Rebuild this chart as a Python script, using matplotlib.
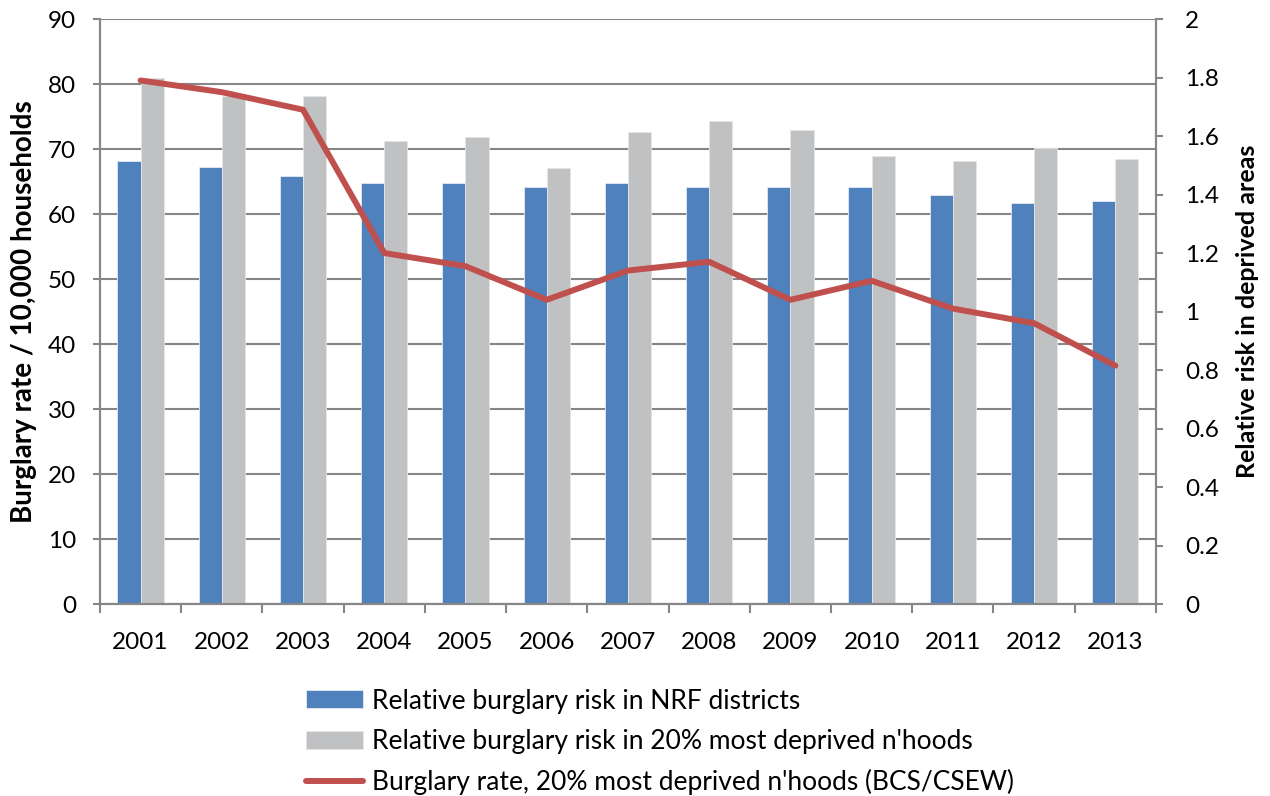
import matplotlib.pyplot as plt
import numpy as np

plt.rcParams['font.family'] = ['Lato', 'DejaVu Sans']

years = ['2001', '2002', '2003', '2004', '2005', '2006', '2007',
         '2008', '2009', '2010', '2011', '2012', '2013']
nrf_risk = [68.2, 67.2, 65.8, 64.8, 64.8, 64.1, 64.8, 64.1, 64.1, 64.1, 63.0, 61.7, 62.0]
deprived_risk = [80.9, 78.2, 78.2, 71.3, 71.9, 67.1, 72.6, 74.3, 73.0, 68.9, 68.2, 70.2, 68.5]
burglary_rate = [1.79, 1.75, 1.69, 1.20, 1.155, 1.04, 1.14, 1.17, 1.04, 1.105, 1.01, 0.96, 0.815]

BLUE = '#4F81BD'
GREY = '#C0C1C3'
RED = '#C0504D'
AXC = '#868686'

fig = plt.figure(figsize=(12.7, 7.96), dpi=100)
ax = fig.add_axes([0.0787, 0.2412, 0.8315, 0.7349])
ax2 = ax.twinx()

x = np.arange(len(years))
w = 0.285
b1 = ax.bar(x - w/2, nrf_risk, w, color=BLUE, edgecolor='#E4EAF3', linewidth=0.6,
            label='Relative burglary risk in NRF districts', zorder=2)
b2 = ax.bar(x + w/2, deprived_risk, w, color=GREY, edgecolor='#E6E6E6', linewidth=0.6,
            label="Relative burglary risk in 20% most deprived n'hoods", zorder=2)
ln, = ax2.plot(x, burglary_rate, color=RED, linewidth=4.3, solid_capstyle='round',
               label="Burglary rate, 20% most deprived n'hoods (BCS/CSEW)")

ax.set_xlim(-0.5, len(years) - 0.5)
ax.set_ylim(0, 90)
ax.set_yticks(range(0, 91, 10))
ax2.set_ylim(0, 2)
ax2.set_yticks([0, 0.2, 0.4, 0.6, 0.8, 1.0, 1.2, 1.4, 1.6, 1.8, 2.0])
ax2.set_yticklabels(['0', '0.2', '0.4', '0.6', '0.8', '1', '1.2', '1.4', '1.6', '1.8', '2'])

ax.yaxis.grid(True, color=AXC, linewidth=1.5, zorder=0)
ax.set_axisbelow(True)

ax.set_xticks(x)
ax.set_xticklabels(years)
ax.set_xticks(np.arange(-0.5, len(years)), minor=True)
ax.tick_params(axis='x', which='major', length=0, pad=20, labelsize=17.5)
ax.tick_params(axis='x', which='minor', length=6.5, width=1.5, color=AXC)
ax.tick_params(axis='y', length=5, width=1.5, color=AXC, labelsize=17.5, pad=12)
ax2.tick_params(axis='y', length=5, width=1.5, color=AXC, labelsize=17.5, pad=16)

for a in (ax, ax2):
    a.spines['top'].set_visible(False)
    for s in ('left', 'right', 'bottom'):
        a.spines[s].set_color(AXC)
        a.spines[s].set_linewidth(1.5)

ax.set_ylabel('Burglary rate / 10,000 households', fontsize=20, fontweight='bold', labelpad=8)
ax2.set_ylabel('Relative risk in deprived areas', fontsize=18, fontweight='bold', labelpad=12)

fig.legend(handles=[b1, b2, ln], loc='upper left', bbox_to_anchor=(0.241, 0.135),
           frameon=False, fontsize=19, handlelength=2.16, handleheight=0.68,
           handletextpad=0.34, labelspacing=0.58, borderpad=0, borderaxespad=0)

fig.savefig('out.png', dpi=100)
